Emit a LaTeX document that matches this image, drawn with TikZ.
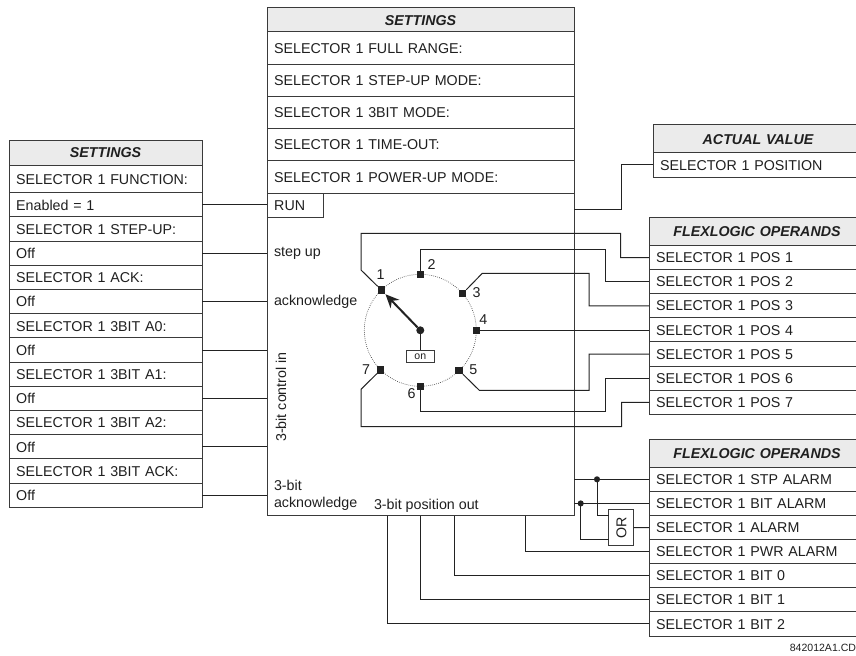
\documentclass[tikz,border=0pt]{standalone}
\usepackage{fontspec}
\setmainfont{Liberation Sans}
\usepackage{xcolor}
\usetikzlibrary{positioning,arrows.meta,calc}
\definecolor{cWire}{HTML}{222222}
\definecolor{cEdge}{HTML}{3a3a3a}
\definecolor{cHead}{HTML}{ebebeb}
\definecolor{cText}{HTML}{1f1f1f}
\newcommand{\rowfont}{\fontsize{10.7pt}{12.8pt}\selectfont}
\newcommand{\tagfont}{\fontsize{7.9pt}{9pt}\selectfont}
\tikzset{
  >={Stealth[length=2mm]},
  tabrow/.style={rectangle,draw=cEdge,line width=0.75pt,outer sep=0pt,inner xsep=5.4pt,inner ysep=0pt,
                 font=\rowfont,text=cText,align=left,text height=7.7pt,text depth=0pt},
  lrow/.style={tabrow,text width=133.95pt,minimum height=18.15pt},
  crow/.style={tabrow,text width=219.45pt,minimum height=24.15pt},
  frow/.style={tabrow,text width=151.2pt,minimum height=18.08pt},
  arow/.style={tabrow,text width=146.7pt,minimum height=18pt},
  thead/.style={fill=cHead,align=center,font=\rowfont\bfseries\itshape},
  lbl/.style={font=\rowfont,text=cText,inner sep=0pt,outer sep=0pt},
  wire/.style={cWire,line width=0.75pt},
  tap/.style={circle,fill=cWire,inner sep=0pt,minimum size=4.6pt,outer sep=0pt},
  post/.style={rectangle,fill=cWire,inner sep=0pt,minimum size=5.6pt,outer sep=0pt},
  ring/.style={circle,draw=cEdge,densely dotted,line width=0.5pt,minimum size=84pt,inner sep=0pt,outer sep=0pt},
}
\begin{document}
\begin{tikzpicture}[x=0.75pt,y=-0.75pt]
    \path[use as bounding box] (0,0) rectangle (856,656);
    \node[lrow,thead,minimum height=18.4pt,anchor=north west] (lh) at (9,140.5) {SETTINGS};
    \node[lrow,minimum height=20.8pt,below=0pt of lh] (lfun) {SELECTOR 1 FUNCTION:};
    \node[lrow,below=0pt of lfun] (lena) {Enabled = 1};
    \node[lrow,below=0pt of lena] (lstp) {SELECTOR 1 STEP-UP:};
    \node[lrow,below=0pt of lstp] (lstpo) {Off};
    \node[lrow,below=0pt of lstpo] (lack) {SELECTOR 1 ACK:};
    \node[lrow,below=0pt of lack] (lacko) {Off};
    \node[lrow,below=0pt of lacko] (la0) {SELECTOR 1 3BIT A0:};
    \node[lrow,below=0pt of la0] (la0o) {Off};
    \node[lrow,below=0pt of la0o] (la1) {SELECTOR 1 3BIT A1:};
    \node[lrow,below=0pt of la1] (la1o) {Off};
    \node[lrow,below=0pt of la1o] (la2) {SELECTOR 1 3BIT A2:};
    \node[lrow,below=0pt of la2] (la2o) {Off};
    \node[lrow,below=0pt of la2o] (lbk) {SELECTOR 1 3BIT ACK:};
    \node[lrow,below=0pt of lbk] (lbko) {Off};

    \node[crow,thead,minimum height=18pt,anchor=north west] (ch) at (267,8) {SETTINGS};
    \node[crow,below=0pt of ch] (cfr) {SELECTOR 1 FULL RANGE:};
    \node[crow,below=0pt of cfr] (csu) {SELECTOR 1 STEP-UP MODE:};
    \node[crow,below=0pt of csu] (c3b) {SELECTOR 1 3BIT MODE:};
    \node[crow,below=0pt of c3b] (cto) {SELECTOR 1 TIME-OUT:};
    \node[crow,below=0pt of cto] (cpu) {SELECTOR 1 POWER-UP MODE:};
    \node[crow,minimum height=241.9pt,below=0pt of cpu] (ctrl) {};
    \node[tabrow,text width=31.2pt,minimum height=18.1pt,anchor=north west] (crun) at (ctrl.north west) {RUN};
    \node[lbl,anchor=west] (cstep) at (274,253) {step up};
    \node[lbl,anchor=west] (cackn) at (274,302) {acknowledge};
    \node[lbl,rotate=90] (cbits) at (281,397) {3-bit control in};
    \node[lbl,anchor=west,align=left] (cback) at (274,495.5) {3-bit\\acknowledge};
    \node[lbl,anchor=west] (cpos) at (374,505.5) {3-bit position out};

    \node[ring] (dial) at (420.3,330.3) {};
    \node[post] (p1) at (dial.134) {};
    \node[post] (p2) at (dial.90) {};
    \node[post] (p3) at (dial.41) {};
    \node[post] (p4) at (dial.0) {};
    \node[post] (p5) at (dial.-46) {};
    \node[post] (p6) at (dial.-90) {};
    \node[post] (p7) at (dial.-135) {};
    \node[lbl] (n1) at (380.7,275) {1};
    \node[lbl] (n2) at (431.7,265) {2};
    \node[lbl] (n3) at (476.7,292.7) {3};
    \node[lbl] (n4) at (483.3,320) {4};
    \node[lbl] (n5) at (473.3,370) {5};
    \node[lbl] (n6) at (411.7,394) {6};
    \node[lbl] (n7) at (366,369.3) {7};
    \node[circle,fill=cWire,inner sep=0pt,minimum size=6pt,outer sep=0pt] (hub) at (dial.center) {};
    \node[tabrow,font=\tagfont,align=center,inner xsep=0pt,text width=21.4pt,text height=5pt,minimum height=9.3pt,anchor=north] (on) at (420.3,350.3) {on};
    \draw[wire] (hub) -- (on);
    \draw[-{Stealth[length=3.6mm,width=3.2mm]},cWire,line width=1.5pt,shorten >=0.5pt] (hub) -- (p1);

    \node[arow,thead,minimum height=21pt,anchor=north west] (ah) at (653,125) {ACTUAL VALUE};
    \node[arow,below=0pt of ah] (apos) {SELECTOR 1 POSITION};

    \node[frow,thead,minimum height=21.2pt,anchor=north west] (fh) at (649,217.3) {FLEXLOGIC OPERANDS};
    \node[frow,below=0pt of fh] (f1) {SELECTOR 1 POS 1};
    \node[frow,below=0pt of f1] (f2) {SELECTOR 1 POS 2};
    \node[frow,below=0pt of f2] (f3) {SELECTOR 1 POS 3};
    \node[frow,below=0pt of f3] (f4) {SELECTOR 1 POS 4};
    \node[frow,below=0pt of f4] (f5) {SELECTOR 1 POS 5};
    \node[frow,below=0pt of f5] (f6) {SELECTOR 1 POS 6};
    \node[frow,below=0pt of f6] (f7) {SELECTOR 1 POS 7};

    \node[frow,thead,minimum height=21.2pt,anchor=north west] (gh) at (649,439) {FLEXLOGIC OPERANDS};
    \node[frow,below=0pt of gh] (gstp) {SELECTOR 1 STP ALARM};
    \node[frow,below=0pt of gstp] (gbit) {SELECTOR 1 BIT ALARM};
    \node[frow,below=0pt of gbit] (galm) {SELECTOR 1 ALARM};
    \node[frow,below=0pt of galm] (gpwr) {SELECTOR 1 PWR ALARM};
    \node[frow,below=0pt of gpwr] (gb0) {SELECTOR 1 BIT 0};
    \node[frow,below=0pt of gb0] (gb1) {SELECTOR 1 BIT 1};
    \node[frow,below=0pt of gb1] (gb2) {SELECTOR 1 BIT 2};
    \node[lbl,font=\tagfont,anchor=east] (code) at (856,648) {842012A1.CD};

    \draw[wire] (lena.east) -- (lena.east -| crun.west);
    \draw[wire] (lstpo.east) -- (lstpo.east -| ctrl.west);
    \draw[wire] (lacko.east) -- (lacko.east -| ctrl.west);
    \draw[wire] (la0o.east) -- (la0o.east -| ctrl.west);
    \draw[wire] (la1o.east) -- (la1o.east -| ctrl.west);
    \draw[wire] (la2o.east) -- (la2o.east -| ctrl.west);
    \draw[wire] (lbko.east) -- (lbko.east -| ctrl.west);

    \draw[wire] (ctrl.east |- 0,209) -| (621,165) -- (apos.west);
    \draw[wire] (p1) -- (361,270) |- (620.7,233.3) |- (f1.west);
    \draw[wire] (p2) |- (605,249.7) |- (f2.west);
    \draw[wire] (p3) -- (482.3,273.3) -- (589,273.3) |- (f3.west);
    \draw[wire] (p4) -- (p4 -| f4.west);
    \draw[wire] (p5) -- (479.3,390.3) -- (589,390.3) |- (f5.west);
    \draw[wire] (p6) |- (605,411) |- (f6.west);
    \draw[wire] (p7) -- (361,389.3) |- (621.7,426.7) |- (f7.west);

    \node[tabrow,rotate=90,align=center,inner xsep=0pt,text width=27.3pt,minimum height=18.5pt,text height=7.7pt] (orgate) at (621.3,527.5) {OR};
    \draw[wire] (ctrl.east |- gstp.west) -- (gstp.west);
    \draw[wire] (ctrl.east |- gbit.west) -- (gbit.west);
    \node[tap] (tstp) at (597,0 |- gstp.west) {};
    \node[tap] (tbit) at (580.7,0 |- gbit.west) {};
    \draw[wire] (tstp) |- (orgate.north |- ctrl.south);
    \draw[wire] (tbit) |- ($(orgate.north)+(0,11.8)$);
    \draw[wire] (orgate.south) -- (galm.west);
    \draw[wire] (525,0 |- ctrl.south) |- (gpwr.west);
    \draw[wire] (454,0 |- ctrl.south) |- (gb0.west);
    \draw[wire] (420,0 |- ctrl.south) |- (gb1.west);
    \draw[wire] (387,0 |- ctrl.south) |- (gb2.west);
\end{tikzpicture}
\end{document}
